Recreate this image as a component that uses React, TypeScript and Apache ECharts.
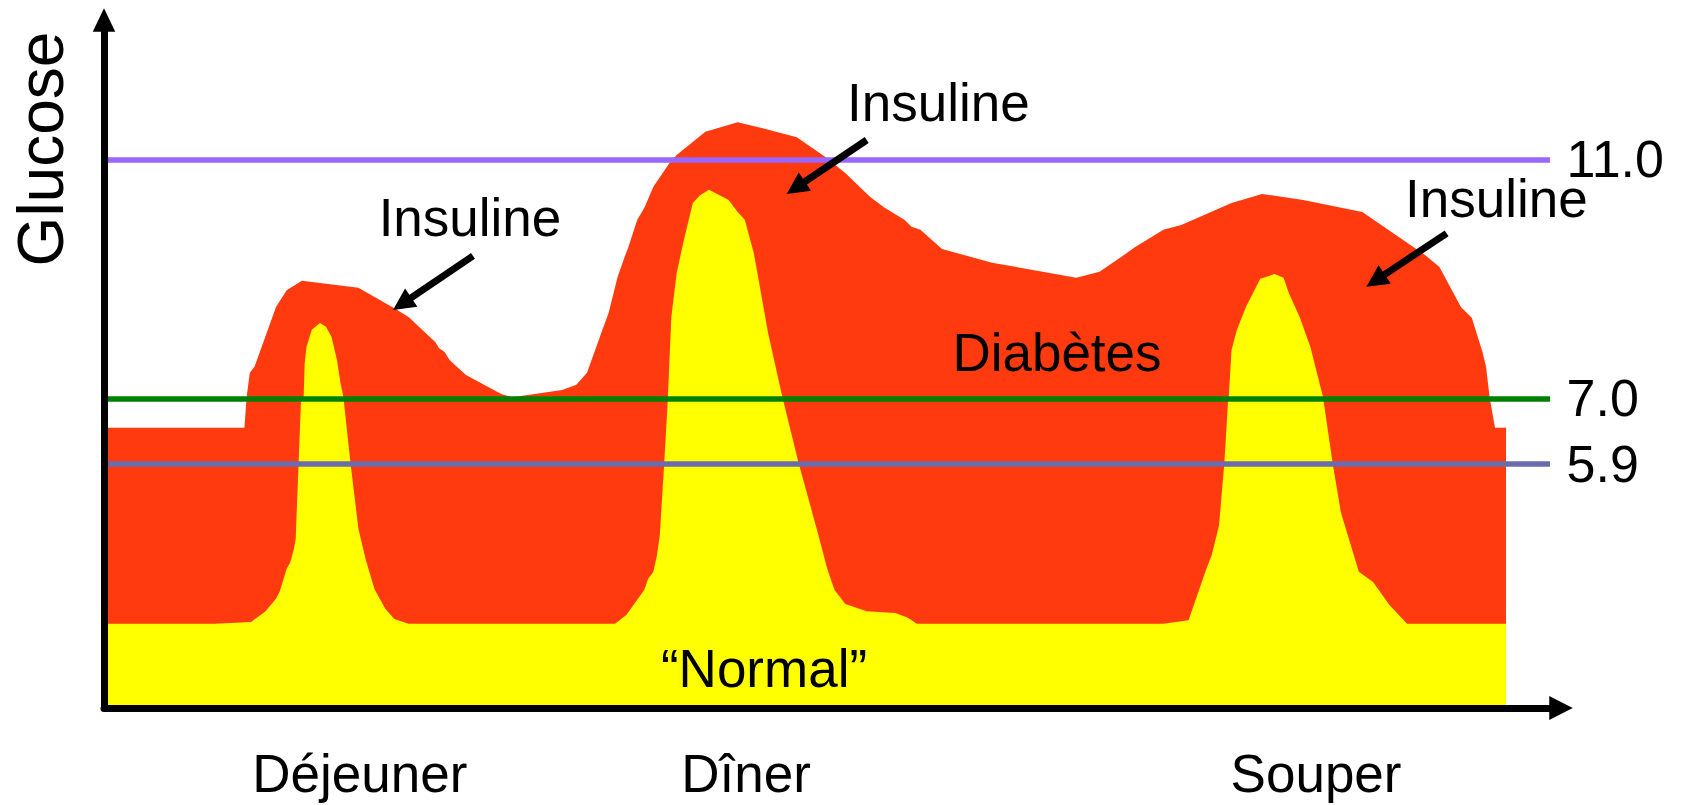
import React, { useEffect, useRef } from "react";
import * as echarts from "echarts";

// ---- data (x = hour of day, y = glucose mmol/L) ----
const mealNames = ["Déjeuner", "Dîner", "Souper"];
const mealLabelHours = [8.81, 13.05, 19.31];

const thresholds = [11.0, 7.0, 5.9];

// diabetic glucose profile (red area)
const diabeticCurve: [number, number][] = [
  [6.0, 6.51], [7.542, 6.51], [7.566, 7.02], [7.601, 7.43], [7.653, 7.53], [7.889, 8.53],
  [8.006, 8.81], [8.174, 8.97], [8.794, 8.85], [9.188, 8.51], [9.345, 8.36], [9.64, 7.94],
  [9.679, 7.84], [9.738, 7.78], [9.797, 7.64], [9.975, 7.39], [10.368, 7.07], [10.486, 7.02],
  [11.03, 7.14], [11.187, 7.23], [11.304, 7.43], [11.462, 8.1], [11.541, 8.43], [11.64, 9.03],
  [11.718, 9.37], [11.758, 9.53], [11.856, 9.99], [11.934, 10.19], [12.033, 10.54], [12.21, 10.94],
  [12.289, 11.07], [12.604, 11.46], [12.958, 11.62], [13.234, 11.52], [13.608, 11.37], [13.922, 11.04],
  [14.14, 10.77], [14.414, 10.37], [14.572, 10.19], [14.789, 9.99], [14.868, 9.87], [14.965, 9.82],
  [15.203, 9.5], [15.752, 9.27], [16.677, 9.02], [16.933, 9.12], [17.201, 9.4], [17.32, 9.53],
  [17.634, 9.82], [17.83, 9.9], [18.382, 10.27], [18.717, 10.42], [19.169, 10.32], [19.818, 10.12],
  [20.507, 9.4], [20.665, 9.2], [20.901, 8.53], [21.02, 8.35], [21.137, 7.78], [21.177, 7.53],
  [21.216, 7.02], [21.275, 6.51], [21.396, 6.51],
];

// normal glucose profile (yellow area)
const normalCurve: [number, number][] = [
  [6.0, 3.23], [7.219, 3.23], [7.614, 3.26], [7.768, 3.43], [7.889, 3.65], [7.928, 3.76],
  [8.006, 4.15], [8.046, 4.26], [8.085, 4.48], [8.105, 4.65], [8.137, 5.92], [8.163, 6.94],
  [8.192, 7.02], [8.204, 7.59], [8.223, 7.86], [8.282, 8.15], [8.372, 8.26], [8.438, 8.2],
  [8.498, 8.03], [8.559, 7.64], [8.597, 7.26], [8.629, 7.02], [8.707, 5.92], [8.794, 4.82],
  [8.873, 4.31], [8.971, 3.81], [9.089, 3.48], [9.188, 3.31], [9.345, 3.23],
  [11.612, 3.23], [11.738, 3.38], [11.934, 3.8], [11.974, 3.98], [12.033, 4.1], [12.073, 4.38],
  [12.104, 4.72], [12.152, 5.92], [12.19, 6.94], [12.23, 8.36], [12.289, 9.1], [12.368, 9.65],
  [12.466, 10.27], [12.545, 10.4], [12.644, 10.49], [12.86, 10.32], [12.958, 10.12], [13.037, 9.99],
  [13.136, 9.43], [13.215, 8.76], [13.292, 8.1], [13.45, 7.02], [13.628, 5.92], [13.745, 5.27],
  [13.844, 4.72], [13.942, 4.15], [14.021, 3.8], [14.14, 3.56], [14.376, 3.44], [14.69, 3.41],
  [14.828, 3.33], [14.926, 3.23],
  [17.634, 3.23], [17.91, 3.29], [18.028, 3.81], [18.106, 4.15], [18.165, 4.38], [18.245, 4.88],
  [18.304, 5.94], [18.343, 6.94], [18.351, 7.02], [18.382, 7.81], [18.441, 8.15], [18.54, 8.53],
  [18.697, 9.0], [18.854, 9.08], [18.953, 9.02], [19.012, 8.76], [19.13, 8.36], [19.248, 7.86],
  [19.387, 7.02], [19.492, 5.92], [19.582, 5.1], [19.681, 4.6], [19.78, 4.1], [19.936, 3.93],
  [20.114, 3.55], [20.309, 3.23], [21.396, 3.23],
];

// annotation texts: [hour, glucose, text]
const annotationTexts: [number, number, string][] = [
  [10.019, 10.027, "Insuline"],
  [15.162, 11.942, "Insuline"],
  [21.29, 10.336, "Insuline"],
  [16.465, 7.76, "Diabètes"],
  [13.248, 2.482, "\u201cNormal\u201d"],
];

// insulin arrows: tail -> head (hour, glucose)
const insulinArrowTails: [number, number][] = [[10.052, 9.383], [14.376, 11.323], [20.744, 9.762]];
const insulinArrowHeads: [number, number][] = [[9.274, 8.583], [13.597, 10.524], [19.963, 8.971]];

const X_MIN = 6;
const X_MAX = 22;
const Y_MIN = 1.82;
const Y_MAX = 13.33;
const LINE_END_HOUR = 21.88;

const FONT = "'Liberation Sans', Arial, Helvetica, sans-serif";
const RED = "#FF3A0E";
const YELLOW = "#FFFF00";
const thresholdColors = ["#9966FF", "#008000", "#6B6BAE"];

export default function App() {
  const ref = useRef<HTMLDivElement>(null);

  useEffect(() => {
    if (!ref.current) return;
    const chart = echarts.init(ref.current, null, { renderer: "svg" });

    const option: any = {
      animation: false,
      backgroundColor: "#ffffff",
      grid: { left: 104, right: 125, top: 20, bottom: 96.9, containLabel: false },
      xAxis: {
        type: "value",
        min: X_MIN,
        max: X_MAX,
        z: 10,
        axisLine: {
          show: true,
          onZero: false,
          symbol: ["none", "triangle"],
          symbolSize: [24, 23.5],
          lineStyle: { color: "#000", width: 7 },
        },
        axisTick: { show: false },
        splitLine: { show: false },
        axisLabel: {
          show: true,
          customValues: mealLabelHours,
          margin: 39,
          color: "#000",
          fontSize: 53,
          fontFamily: FONT,
          formatter: (v: number) => {
            const i = mealLabelHours.findIndex((x) => Math.abs(x - v) < 1e-6);
            return i >= 0 ? mealNames[i] : "";
          },
        },
      },
      yAxis: {
        type: "value",
        min: Y_MIN,
        max: Y_MAX,
        z: 10,
        axisLine: {
          show: true,
          onZero: false,
          symbol: ["none", "triangle"],
          symbolSize: [22.5, 23.5],
          lineStyle: { color: "#000", width: 7 },
        },
        axisTick: { show: false },
        axisLabel: { show: false },
        splitLine: { show: false },
      },
      graphic: [
        {
          type: "text",
          x: 40.5,
          y: 149,
          rotation: Math.PI / 2,
          z: 20,
          style: {
            text: "Glucose",
            font: `64px ${FONT}`,
            fill: "#000",
            align: "center",
            verticalAlign: "middle",
          },
        },
      ],
      series: [
        {
          name: "Diabète",
          type: "line",
          data: diabeticCurve,
          showSymbol: false,
          symbol: "none",
          smooth: false,
          lineStyle: { width: 0, color: RED },
          areaStyle: { color: RED, opacity: 1 },
          z: 2,
          silent: true,
        },
        {
          name: "Normal",
          type: "line",
          data: normalCurve,
          showSymbol: false,
          symbol: "none",
          smooth: false,
          lineStyle: { width: 0, color: YELLOW },
          areaStyle: { color: YELLOW, opacity: 1 },
          z: 3,
          silent: true,
          markLine: {
            silent: true,
            symbol: ["none", "none"],
            z: 5,
            data: thresholds.map((t, i) => [
              {
                coord: [X_MIN, t],
                lineStyle: { color: thresholdColors[i], width: 5.5, type: "solid" },
                label: {
                  show: true,
                  position: "end",
                  distance: 16.5,
                  formatter: t.toFixed(1),
                  color: "#000",
                  fontSize: 52,
                  fontFamily: FONT,
                  padding: [0, 0, 8, 0],
                },
              },
              { coord: [LINE_END_HOUR, t] },
            ]),
          },
        },
        {
          name: "annotations",
          type: "scatter",
          data: annotationTexts,
          symbolSize: 0,
          itemStyle: { opacity: 1 },
          z: 8,
          silent: true,
          label: {
            show: true,
            position: "inside",
            formatter: (p: any) => p.data[2],
            color: "#000",
            opacity: 1,
            fontSize: 53,
            fontFamily: FONT,
          },
          markLine: {
            silent: true,
            symbol: ["none", "triangle"],
            symbolSize: 22,
            z: 7,
            label: { show: false },
            lineStyle: { color: "#000", width: 7, type: "solid", opacity: 1 },
            itemStyle: { color: "#000", opacity: 1 },
            data: insulinArrowTails.map((tail, i) => [
              { coord: tail, lineStyle: { color: "#000", width: 7, opacity: 1 }, itemStyle: { color: "#000", opacity: 1 } },
              { coord: insulinArrowHeads[i], itemStyle: { color: "#000", opacity: 1 } },
            ]),
          },
        },
      ],
    };

    chart.setOption(option);
    return () => chart.dispose();
  }, []);

  return (
    <div
      ref={ref}
      style={{ position: "absolute", left: 0, top: 0, width: 1686, height: 805, background: "#fff" }}
    />
  );
}
